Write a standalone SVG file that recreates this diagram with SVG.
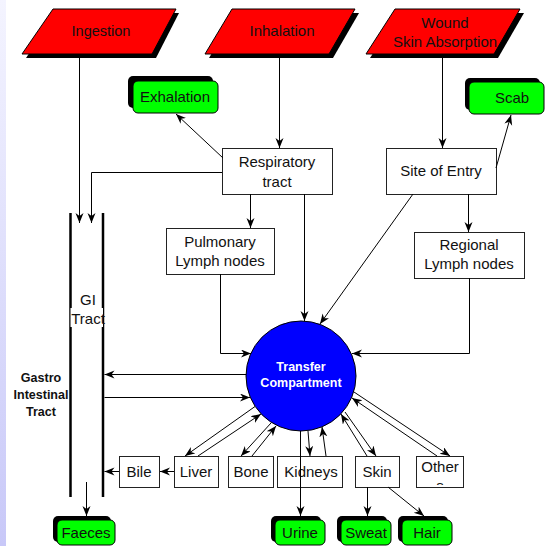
<svg xmlns="http://www.w3.org/2000/svg" width="545" height="546" viewBox="0 0 545 546">
<defs>
<linearGradient id="strip" x1="0" y1="0" x2="0" y2="1">
<stop offset="0" stop-color="#f4f4ff"/>
<stop offset="1" stop-color="#c8c8f8"/>
</linearGradient>
<marker id="ah" markerUnits="userSpaceOnUse" markerWidth="12" markerHeight="10" refX="10" refY="4" orient="auto">
<path d="M0,0 L10,4 L0,8 L3,4 z" fill="#000"/>
</marker>
<clipPath id="otherClip"><rect x="416" y="456" width="47" height="29"/></clipPath>
</defs>
<style>
text{font-family:"Liberation Sans",Arial,sans-serif;font-size:15px;fill:#111;text-anchor:middle}
.src{fill:#ff0000;stroke:#000;stroke-width:1}
.shadow{fill:#000}
.box{fill:#fff;stroke:#222;stroke-width:1}
.out{fill:#00ff00;stroke:#000;stroke-width:1}
.con line,.con polyline{stroke:#000;stroke-width:1;fill:none;marker-end:url(#ah)}
.gi{stroke:#000;stroke-width:2.5}
.bold{font-weight:bold;font-size:12.5px}
.white{fill:#fff;font-weight:bold;font-size:12.5px}
</style>
<rect x="0" y="0" width="6" height="546" fill="url(#strip)"/>

<g id="ingestion">
<polygon class="shadow" points="56,13 179,13 156,58 26,58"/>
<polygon class="src" points="53,9 176,9 152,54 22,54"/>
<text x="101" y="36" style="font-size:14.5px">Ingestion</text>
</g>
<g id="inhalation">
<polygon class="shadow" points="236,13 359,13 333,58 209,58"/>
<polygon class="src" points="232,9 355,9 329,54 205,54"/>
<text x="282" y="36">Inhalation</text>
</g>
<g id="wound">
<polygon class="shadow" points="399,13 524,13 498,58 370,58"/>
<polygon class="src" points="395,9 520,9 494,54 366,54"/>
<text x="445" y="28">Wound</text>
<text x="445" y="47">Skin Absorption</text>
</g>
<g id="exhalation">
<rect class="shadow" x="128" y="76" width="85" height="32" rx="5"/>
<rect class="out" x="133" y="81" width="85" height="32" rx="5"/>
<text x="175" y="102">Exhalation</text>
</g>
<g id="scab">
<rect class="shadow" x="465" y="78" width="75" height="32" rx="5"/>
<rect class="out" x="469" y="82" width="75" height="32" rx="5"/>
<text x="512" y="103">Scab</text>
</g>
<g id="respiratory">
<rect class="box" x="222.5" y="148.5" width="110" height="46"/>
<text x="277" y="167">Respiratory</text>
<text x="277" y="187">tract</text>
</g>
<g id="site">
<rect class="box" x="386.5" y="148.5" width="110" height="46"/>
<text x="441" y="176">Site of Entry</text>
</g>
<g id="pulmonary">
<rect class="box" x="166.5" y="228.5" width="108" height="46"/>
<text x="220" y="247">Pulmonary</text>
<text x="220" y="266">Lymph nodes</text>
</g>
<g id="regional">
<rect class="box" x="414.5" y="232.5" width="110" height="46"/>
<text x="469" y="250">Regional</text>
<text x="469" y="269">Lymph nodes</text>
</g>
<g id="gi-tract">
<line class="gi" x1="70.5" y1="213" x2="70.5" y2="497"/>
<line class="gi" x1="103" y1="213" x2="103" y2="497"/>
<rect x="70.5" y="308" width="32.5" height="19" fill="#fff"/>
<text x="88" y="305">GI</text>
<text x="88" y="324">Tract</text>
<text class="bold" x="41" y="382">Gastro</text>
<text class="bold" x="41" y="399">Intestinal</text>
<text class="bold" x="41" y="416">Tract</text>
</g>
<g id="transfer">
<circle cx="301" cy="376" r="55" fill="#0000ff" stroke="#000" stroke-width="1"/>
<text class="white" x="301" y="371">Transfer</text>
<text class="white" x="301" y="387">Compartment</text>
</g>
<g id="bile">
<rect class="box" x="119.5" y="456.5" width="40" height="31"/>
<text x="139" y="477">Bile</text>
</g>
<g id="liver">
<rect class="box" x="174.5" y="456.5" width="44" height="31"/>
<text x="196" y="477">Liver</text>
</g>
<g id="bone">
<rect class="box" x="228.5" y="456.5" width="45" height="31"/>
<text x="251" y="477">Bone</text>
</g>
<g id="kidneys">
<rect class="box" x="277.5" y="456.5" width="65" height="31"/>
<text x="311" y="477">Kidneys</text>
</g>
<g id="skin">
<rect class="box" x="355.5" y="456.5" width="44" height="31"/>
<text x="377" y="477">Skin</text>
</g>
<g id="others">
<rect class="box" x="416.5" y="456.5" width="47" height="31"/>
<text x="440" y="472">Other</text>
<text x="440" y="491" clip-path="url(#otherClip)">s</text>
</g>
<g id="faeces">
<rect class="shadow" x="53" y="516" width="58" height="26" rx="5"/>
<rect class="out" x="57" y="520" width="58" height="25" rx="5"/>
<text x="86" y="538">Faeces</text>
</g>
<g id="urine">
<rect class="shadow" x="271" y="516" width="50" height="26" rx="5"/>
<rect class="out" x="275" y="520" width="50" height="25" rx="5"/>
<text x="300" y="538">Urine</text>
</g>
<g id="sweat">
<rect class="shadow" x="337" y="516" width="50" height="26" rx="5"/>
<rect class="out" x="341" y="520" width="50" height="25" rx="5"/>
<text x="366" y="538">Sweat</text>
</g>
<g id="hair">
<rect class="shadow" x="398" y="516" width="50" height="26" rx="5"/>
<rect class="out" x="402" y="520" width="50" height="25" rx="5"/>
<text x="427" y="538">Hair</text>
</g>

<g id="connectors" class="con">
<line x1="79.5" y1="58" x2="79.5" y2="223"/>
<polyline points="222,172.5 91.5,172.5 91.5,223"/>
<line x1="279.5" y1="58" x2="279.5" y2="148"/>
<line x1="442.5" y1="58" x2="442.5" y2="148"/>
<line x1="223" y1="158" x2="176" y2="114"/>
<line x1="496" y1="168" x2="511" y2="115"/>
<line x1="250.5" y1="194" x2="250.5" y2="228"/>
<line x1="304.5" y1="194" x2="304.5" y2="321"/>
<line x1="413" y1="194" x2="320" y2="324"/>
<line x1="468.5" y1="194" x2="468.5" y2="232"/>
<polyline points="220.5,274 220.5,353.5 251,353.5"/>
<polyline points="469.5,278 469.5,353.5 352,353.5"/>
<line x1="246" y1="374.5" x2="104.5" y2="374.5"/>
<line x1="104.5" y1="397.5" x2="250" y2="397.5"/>
<line x1="174" y1="471.5" x2="160" y2="471.5"/>
<line x1="119" y1="471.5" x2="104.5" y2="471.5"/>
<line x1="255" y1="406.5" x2="185" y2="456"/>
<line x1="198" y1="456" x2="261" y2="414"/>
<line x1="271" y1="423" x2="241" y2="456"/>
<line x1="252" y1="456" x2="276" y2="426"/>
<line x1="308" y1="431" x2="310" y2="456"/>
<line x1="326" y1="456" x2="322" y2="427"/>
<line x1="300.5" y1="431" x2="300.5" y2="516"/>
<line x1="345" y1="412" x2="376" y2="456"/>
<line x1="367" y1="456" x2="341" y2="414"/>
<line x1="354" y1="392" x2="450" y2="456"/>
<line x1="437" y1="456" x2="352" y2="398"/>
<line x1="86.5" y1="482" x2="86.5" y2="516"/>
<line x1="367.5" y1="487" x2="367.5" y2="516"/>
<line x1="388" y1="487" x2="424" y2="516"/>
</g>
</svg>
